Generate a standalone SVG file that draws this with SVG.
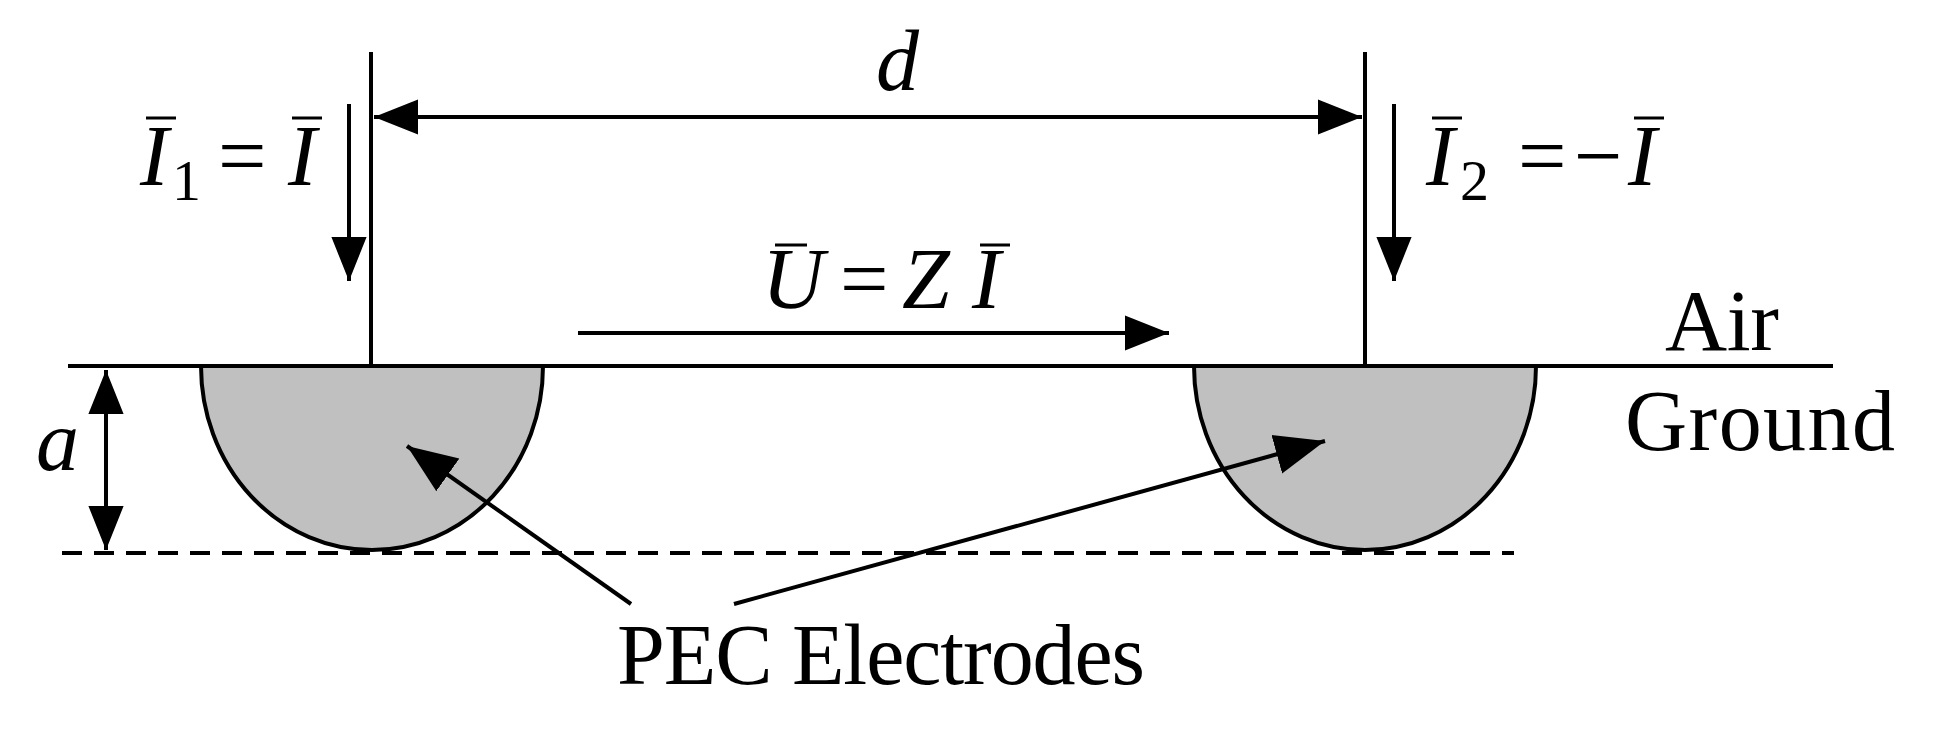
<svg xmlns="http://www.w3.org/2000/svg" width="1933" height="730" viewBox="0 0 1933 730">
<style>
.ln{stroke:#000;stroke-width:4;fill:none}
.bar{stroke:#000;stroke-width:3}
.t{font-family:"Liberation Serif",serif;font-size:86px;fill:#000}
.i{font-style:italic}
.s{font-size:58px}
.el{fill:#c0c0c0;stroke:#000;stroke-width:4}
</style>
<defs>
<marker id="big" viewBox="0 0 10 8" refX="10" refY="4" markerWidth="44" markerHeight="40" orient="auto-start-reverse" markerUnits="userSpaceOnUse"><path d="M0,0 L10,4 L0,8 z" fill="#000"/></marker>
<marker id="ptr" viewBox="0 0 10 8" refX="10" refY="4" markerWidth="50" markerHeight="46" orient="auto" markerUnits="userSpaceOnUse"><path d="M0,0 L10,4 L0,8 z" fill="#000"/></marker>
</defs>
<rect width="1933" height="730" fill="#fff"/>
<g id="electrode-left"><path class="el" d="M201,366 A171,184 0 0 0 543,366 Z"/></g>
<g id="electrode-right"><path class="el" d="M1194,366 A171,184 0 0 0 1536,366 Z"/></g>
<g id="ground">
<line class="ln" x1="68" y1="366" x2="1833" y2="366"/>
<line class="ln" x1="62" y1="553" x2="1514" y2="553" stroke-dasharray="20,12" stroke-width="3"/>
<text class="t" x="1665" y="350" textLength="114">Air</text>
<text class="t" x="1625" y="450" textLength="270">Ground</text>
</g>
<g id="wires">
<line class="ln" x1="371" y1="52" x2="371" y2="366"/>
<line class="ln" x1="1365" y1="52" x2="1365" y2="366"/>
</g>
<g id="connectors">
<line class="ln" x1="374" y1="117" x2="1362" y2="117" stroke-width="5" marker-start="url(#big)" marker-end="url(#big)"/>
<line class="ln" x1="106" y1="370" x2="106" y2="550" marker-start="url(#big)" marker-end="url(#big)"/>
<line class="ln" x1="349" y1="104" x2="349" y2="281" marker-end="url(#big)"/>
<line class="ln" x1="1394" y1="104" x2="1394" y2="281" marker-end="url(#big)"/>
<line class="ln" x1="578" y1="333" x2="1169" y2="333" stroke-width="5" marker-end="url(#big)"/>
<line class="ln" x1="631" y1="604" x2="407" y2="446" stroke-width="6" marker-end="url(#ptr)"/>
<line class="ln" x1="734" y1="604" x2="1325" y2="441" stroke-width="6" marker-end="url(#ptr)"/>
</g>
<g id="labels">
<text class="t i" x="876" y="90">d</text>
<text class="t i" x="36" y="470">a</text>
<text class="t i" x="140" y="185">I</text><text class="t s" x="172" y="200">1</text><text class="t" x="218" y="185">=</text><text class="t i" x="288" y="185">I</text>
<line class="bar" x1="146" y1="118" x2="176" y2="118"/>
<line class="bar" x1="292" y1="118" x2="322" y2="118"/>
<text class="t i" x="1426" y="185">I</text><text class="t s" x="1460" y="200">2</text><text class="t" x="1518" y="185">=</text><text class="t" x="1574" y="185">−</text><text class="t i" x="1628" y="185">I</text>
<line class="bar" x1="1432" y1="118" x2="1462" y2="118"/>
<line class="bar" x1="1634" y1="118" x2="1664" y2="118"/>
<text class="t i" x="762" y="308">U</text><text class="t" x="840" y="308">=</text><text class="t i" x="902" y="308">Z</text><text class="t i" x="972" y="308">I</text>
<line class="bar" x1="775" y1="245" x2="807" y2="245"/>
<line class="bar" x1="980" y1="245" x2="1010" y2="245"/>
<text class="t" x="617" y="684" textLength="528" font-size="88">PEC Electrodes</text>
</g>
</svg>
